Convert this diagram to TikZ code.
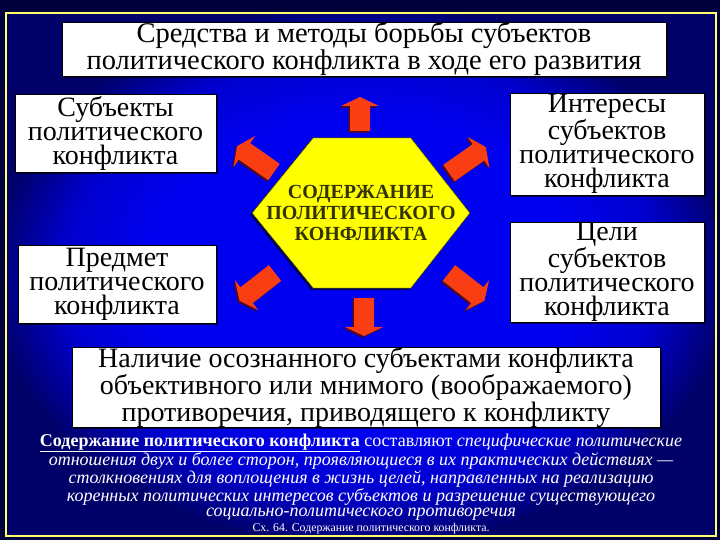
\documentclass[tikz,border=0pt]{standalone}
\usepackage{fontspec}
\setmainfont{Liberation Serif}
\usetikzlibrary{shadows}
\definecolor{bgouter}{RGB}{0,0,60}
\definecolor{bgin}{RGB}{0,0,240}
\definecolor{bgmid}{RGB}{0,0,205}
\definecolor{bgedge}{RGB}{0,0,105}
\definecolor{framecol}{RGB}{255,255,110}
\definecolor{hexfill}{RGB}{255,255,0}
\definecolor{hextext}{RGB}{51,51,0}
\definecolor{arrfill}{RGB}{250,62,20}
\definecolor{arrshadow}{RGB}{80,10,30}
\pgfdeclareradialshading{bgshade}{\pgfpoint{0bp}{0bp}}{color(0bp)=(bgin); color(15bp)=(bgin); color(21bp)=(bgmid); color(26bp)=(bgedge); color(50bp)=(bgedge)}
\tikzset{
  box/.style={draw=black, line width=0.6pt, fill=white, align=center, inner sep=0pt,
    text=black, font=\fontsize{28}{24}\selectfont,
    drop shadow={shadow xshift=2pt, shadow yshift=-2pt, fill=black, opacity=0.6}},
  arrbody/.style={fill=arrfill},
  arrshade/.style={fill=arrshadow}
}
\newcommand\blockarr[4]{%
  \begin{scope}[shift={(#1-1.6,#2+1.6)},rotate=#3]
    \fill[arrshade] (0,-10) -- (#4,-10) -- (#4,-19) -- (#4+9,0) -- (#4,19) -- (#4,10) -- (0,10) -- cycle;
  \end{scope}
  \begin{scope}[shift={(#1,#2)},rotate=#3]
    \fill[arrbody] (0,-10) -- (#4,-10) -- (#4,-19) -- (#4+9,0) -- (#4,19) -- (#4,10) -- (0,10) -- cycle;
  \end{scope}}
\begin{document}
\begin{tikzpicture}[x=1pt,y=-1pt]
\useasboundingbox (0,0) rectangle (720,540);
\fill[bgouter] (0,0) rectangle (720,540);
\shade[shading=bgshade] (6,13) rectangle (716,536);
\draw[framecol, line width=1.5pt] (6,13) rectangle (716,536);

% boxes
\node[box, minimum width=604pt, minimum height=54pt, font=\fontsize{28.5}{24}\selectfont] (title) at (364,49)
  {Средства и методы борьбы субъектов\\политического конфликта в ходе его развития};
\node[box, minimum width=201pt, minimum height=78pt] (subj) at (115.5,133)
  {Субъекты\\политического\\конфликта};
\node[box, minimum width=198pt, minimum height=78pt] (pred) at (117,284)
  {Предмет\\политического\\конфликта};
\node[box, minimum width=194pt, minimum height=102pt] (inter) at (607,144)
  {Интересы\\субъектов\\политического\\конфликта};
\node[box, minimum width=194pt, minimum height=100pt] (tseli) at (607,272)
  {Цели\\субъектов\\политического\\конфликта};
\node[box, minimum width=588pt, minimum height=79pt] (nal) at (366,387.5)
  {Наличие осознанного субъектами конфликта\\объективного или мнимого (воображаемого)\\противоречия, приводящего к конфликту};

% hexagon
\fill[black, opacity=0.6] (311,140) -- (409,140) -- (468,215) -- (409,290) -- (311,290) -- (250,215) -- cycle;
\filldraw[fill=hexfill, draw=hextext, line width=0.5pt]
  (313,138) -- (411,138) -- (470,213) -- (411,288) -- (313,288) -- (252,213) -- cycle;
\node[font=\bfseries\fontsize{20}{21}\selectfont, text=hextext, align=center, inner sep=0pt] (hex) at (361,213)
  {СОДЕРЖАНИЕ\\ПОЛИТИЧЕСКОГО\\КОНФЛИКТА};

% arrows
\blockarr{360}{131}{90}{25}
\blockarr{364}{298}{-90}{29}
\blockarr{274}{172}{145}{36}
\blockarr{449}{173}{35}{36}
\blockarr{275}{273}{218}{36}
\blockarr{449}{273}{-38}{36}

% description
\node[text=white, align=center, inner sep=0pt, font=\fontsize{18}{15.5}\selectfont] (desc) at (361,477)
  {\underline{\textbf{Содержание политического конфликта}} составляют \textit{специфические политические}\\
   \textit{отношения двух и более сторон, проявляющиеся в их практических действиях —}\\
   \textit{столкновениях для воплощения в жизнь целей, направленных на реализацию}\\
   \textit{коренных политических интересов субъектов и разрешение существующего}\\
   \textit{социально-политического противоречия}};
\node[text=white, inner sep=0pt, font=\fontsize{11.8}{12}\selectfont] (cap) at (371,528.5)
  {Сх. 64. Содержание политического конфликта.};
\end{tikzpicture}
\end{document}
